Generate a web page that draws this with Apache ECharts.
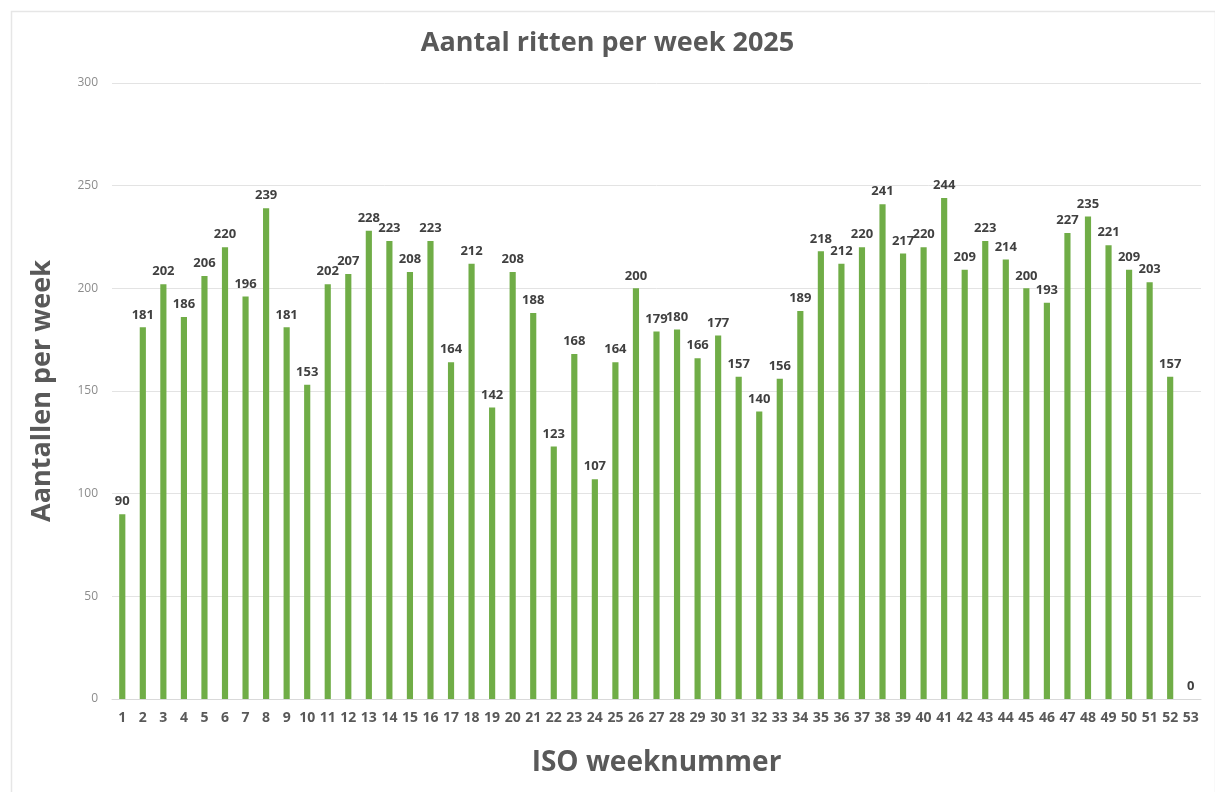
<!DOCTYPE html>
<html>
<head>
<meta charset="utf-8">
<script src="https://cdn.jsdelivr.net/npm/echarts@6/dist/echarts.min.js"></script>
<style>html,body{margin:0;padding:0;background:#fff}#c{width:1215px;height:792px}</style>
</head>
<body>
<div id="c"></div>
<script>
const weeks = ['1','2','3','4','5','6','7','8','9','10','11','12','13','14','15','16','17','18','19','20','21','22','23','24','25','26','27','28','29','30','31','32','33','34','35','36','37','38','39','40','41','42','43','44','45','46','47','48','49','50','51','52','53'];
const rides = [90,181,202,186,206,220,196,239,181,153,202,207,228,223,208,223,164,212,142,208,188,123,168,107,164,200,179,180,166,177,157,140,156,189,218,212,220,241,217,220,244,209,223,214,200,193,227,235,221,209,203,157,0];
const titleText = 'Aantal ritten per week 2025';
const yName = 'Aantallen per week';
const xName = 'ISO weeknummer';

const chart = echarts.init(document.getElementById('c'));
const font = '"Open Sans", "Noto Sans", sans-serif';
chart.setOption({
  animation: false,
  backgroundColor: '#fff',
  graphic: [{
    type: 'rect', left: 9, top: 9, silent: true,
    shape: { width: 1204, height: 800 },
    style: { fill: 'none', stroke: '#e6e6e6', lineWidth: 1.5 }
  }],
  title: {
    text: titleText, left: 'center', top: 25,
    textStyle: { fontFamily: font, fontSize: 27, fontWeight: 'bold', color: '#595959' }
  },
  grid: { left: 112, right: 14, top: 83, bottom: 93 },
  xAxis: {
    type: 'category', data: weeks,
    name: xName, nameLocation: 'middle', nameGap: 50,
    nameTextStyle: { fontFamily: font, fontSize: 28, fontWeight: 'bold', color: '#595959' },
    axisLine: { lineStyle: { color: '#d9d9d9' } },
    axisTick: { show: false },
    axisLabel: { interval: 0, fontFamily: font, fontSize: 14, fontWeight: 'bold', color: '#595959', margin: 12 }
  },
  yAxis: {
    type: 'value', min: 0, max: 300, interval: 50,
    name: yName, nameLocation: 'middle', nameGap: 56,
    nameTextStyle: { fontFamily: font, fontSize: 27, fontWeight: 'bold', color: '#595959' },
    axisLine: { show: false }, axisTick: { show: false },
    axisLabel: { fontFamily: font, fontSize: 12, color: '#8c8c8c', margin: 14 },
    splitLine: { lineStyle: { color: '#e3e3e3' } }
  },
  series: [{
    type: 'bar', data: rides, barWidth: '30%',
    itemStyle: { color: '#70AD47' },
    label: { show: true, position: 'top', distance: 6, fontFamily: font, fontSize: 13, fontWeight: 'bold', color: '#404040' }
  }]
});
</script>
</body>
</html>
